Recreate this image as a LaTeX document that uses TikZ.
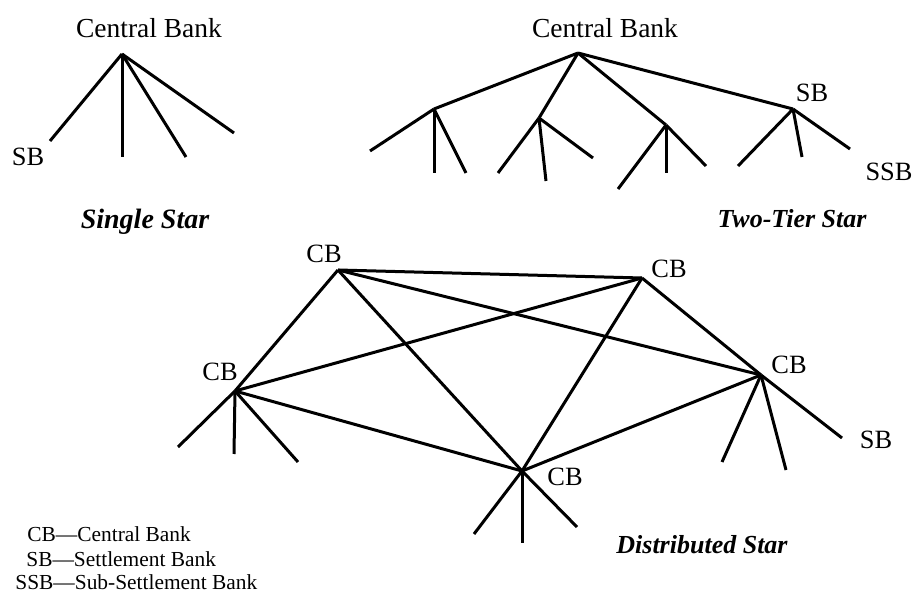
\documentclass[tikz,border=0pt]{standalone}
\usepackage{fontspec}
\setmainfont{Liberation Serif}
\begin{document}
\begin{tikzpicture}[x=0.5pt,y=-0.5pt,
  link/.style={line width=1.5pt},
  lbl/.style={inner sep=0pt, font=\fontsize{13.2}{15}\selectfont},
  head/.style={inner sep=0pt, font=\fontsize{13.75}{16}\selectfont},
  ttl/.style={inner sep=0pt, anchor=base, font=\fontsize{14}{16}\selectfont\bfseries\itshape},
  ttlsmall/.style={ttl, font=\fontsize{13}{15}\selectfont\bfseries\itshape},
  key/.style={inner sep=0pt, anchor=base west, font=\fontsize{10.7}{13}\selectfont}]
\useasboundingbox (0,0) rectangle (915,592);

% ---------- single star ----------
\coordinate (s0) at (122,54);
\coordinate (s1) at (50,141);
\coordinate (s2) at (122,157);
\coordinate (s3) at (186,157);
\coordinate (s4) at (234,133);
\foreach \n in {s1,s2,s3,s4} \draw[link] (s0) -- (\n);
\node[head] (scb) at (149,28) {Central Bank};
\node[lbl] (ssb) at (28,157) {SB};
\node[ttl] (stitle) at (145,229) {Single Star};

% ---------- two-tier star ----------
\coordinate (t0) at (578,53);
\coordinate (ta) at (434,109);
\coordinate (tb) at (539,118);
\coordinate (tc) at (666,125);
\coordinate (td) at (793,109);
\coordinate (ta1) at (370,151);
\coordinate (ta2) at (434,173);
\coordinate (ta3) at (466,173);
\coordinate (tb1) at (498,173);
\coordinate (tb2) at (546,181);
\coordinate (tb3) at (593,158);
\coordinate (tc1) at (618,189);
\coordinate (tc2) at (666,173);
\coordinate (tc3) at (706,166);
\coordinate (td1) at (738,166);
\coordinate (td2) at (802,157);
\coordinate (td3) at (850,149);
\foreach \n in {ta,tb,tc,td} \draw[link] (t0) -- (\n);
\foreach \h in {ta,tb,tc,td}
  \foreach \k in {1,2,3} \draw[link] (\h) -- (\h\k);
\node[head] (tcb) at (605,28) {Central Bank};
\node[lbl] (tsb) at (812,93) {SB};
\node[lbl] (tssb) at (889,172) {SSB};
\node[ttlsmall] (ttitle) at (792,228) {Two-Tier Star};

% ---------- distributed star ----------
\coordinate (p) at (338,270);
\coordinate (q) at (642,278);
\coordinate (l) at (235,391);
\coordinate (m) at (522,471);
\coordinate (r) at (761,375);
\foreach \a/\b in {p/q,p/l,p/m,p/r,q/l,q/m,q/r,l/m,m/r}
  \draw[link] (\a) -- (\b);
\coordinate (l1) at (178,447);
\coordinate (l2) at (234,454);
\coordinate (l3) at (298,462);
\coordinate (m1) at (474,534);
\coordinate (m2) at (522,543);
\coordinate (m3) at (577,527);
\coordinate (r1) at (722,462);
\coordinate (r2) at (786,470);
\coordinate (r3) at (842,438);
\foreach \h in {l,m,r}
  \foreach \k in {1,2,3} \draw[link] (\h) -- (\h\k);
\node[lbl] (pcb) at (324,254) {CB};
\node[lbl] (qcb) at (669,269) {CB};
\node[lbl] (lcb) at (220,372) {CB};
\node[lbl] (mcb) at (565,477) {CB};
\node[lbl] (rcb) at (789,365) {CB};
\node[lbl] (rsb) at (876,440) {SB};
\node[ttlsmall] (dtitle) at (702,553) {Distributed Star};

% ---------- key ----------
\node[key] (k1) at (27,542) {CB---Central Bank};
\node[key] (k2) at (26,567) {SB---Settlement Bank};
\node[key] (k3) at (15,589) {SSB---Sub-Settlement Bank};
\end{tikzpicture}
\end{document}
